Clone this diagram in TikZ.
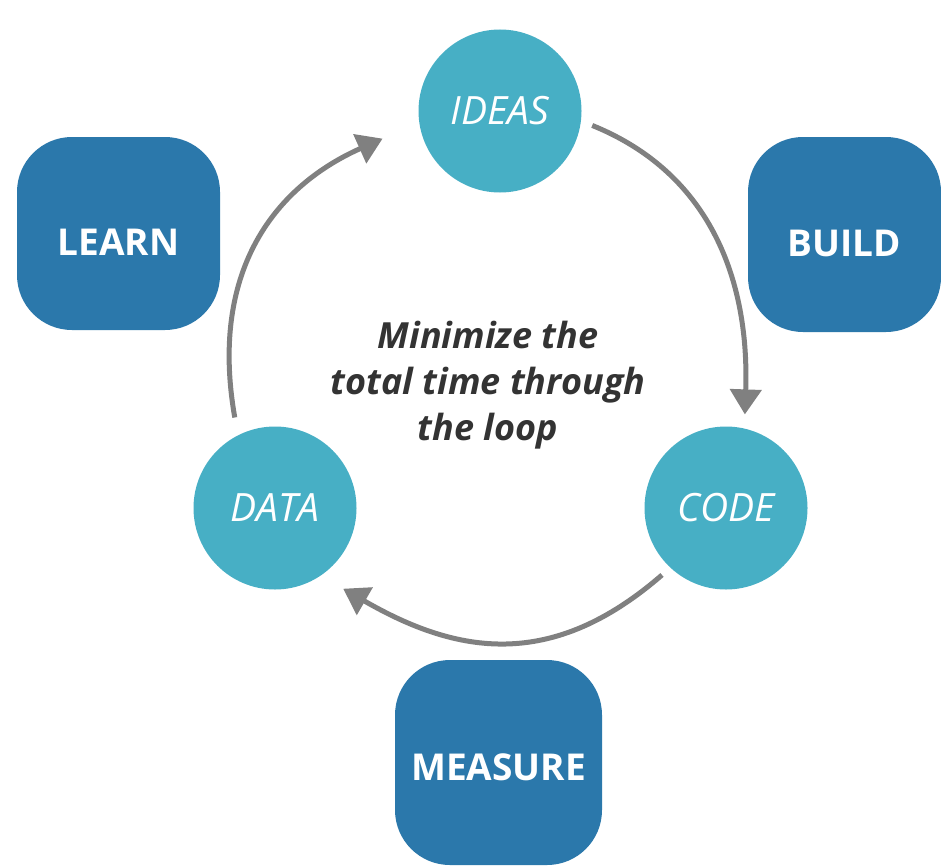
\documentclass[tikz,border=0pt]{standalone}
\usepackage{fontspec}
\setmainfont{Open Sans}
\usetikzlibrary{arrows.meta}
\definecolor{boxblue}{HTML}{2B78AB}
\definecolor{circteal}{HTML}{47AFC5}
\definecolor{arrgray}{HTML}{808080}
\definecolor{textdark}{HTML}{333333}
\tikzset{
  stagebox/.style={fill=boxblue, draw=none, rounded corners=55pt, inner sep=0pt,
    text=white, font=\fontsize{37}{40}\selectfont\bfseries,
    text height=43pt, text depth=0pt},
  stagecirc/.style={circle, fill=circteal, draw=none, minimum size=163pt, inner sep=0pt,
    text=white, font=\fontsize{39}{42}\selectfont\itshape},
  looparrow/.style={draw=arrgray, line width=5pt,
    -{Triangle[length=25pt,width=31pt]}},
  centertext/.style={align=center, text=textdark,
    font=\fontsize{36}{46}\selectfont\bfseries\itshape}
}
\begin{document}
\begin{tikzpicture}[x=1pt,y=-1pt]
\useasboundingbox[fill=white] (0,0) rectangle (941,867);
% boxes
\node[stagebox, minimum width=203pt, minimum height=193pt] (learn) at (118.5,233.5) {LEARN};
\node[stagebox, minimum width=193pt, minimum height=195pt] (build) at (844.5,234.5) {BUILD};
\node[stagebox, minimum width=207pt, minimum height=205pt, text height=36pt] (measure) at (498.5,762.5) {MEASURE};
% circles
\node[stagecirc] (ideas) at (500,111) {IDEAS};
\node[stagecirc] (code) at (726,508) {CODE};
\node[stagecirc] (data) at (275,508) {DATA};
% centre text
\node[centertext] (goal) at (488,385) {Minimize the\\total time through\\the loop};
% arrows
\draw[looparrow, shorten <=12pt, shorten >=14pt] (ideas.-7) to[out=-22, in=88, looseness=1.05] (code.77);
\draw[looparrow, shorten <=11pt, shorten >=26pt] (code.227) to[out=221, in=-30, looseness=1.15] (data.-56);
\draw[looparrow, shorten <=18pt, shorten >=40pt] (data.117) to[out=100, in=204, looseness=1.15] (ideas.188);
\end{tikzpicture}
\end{document}
